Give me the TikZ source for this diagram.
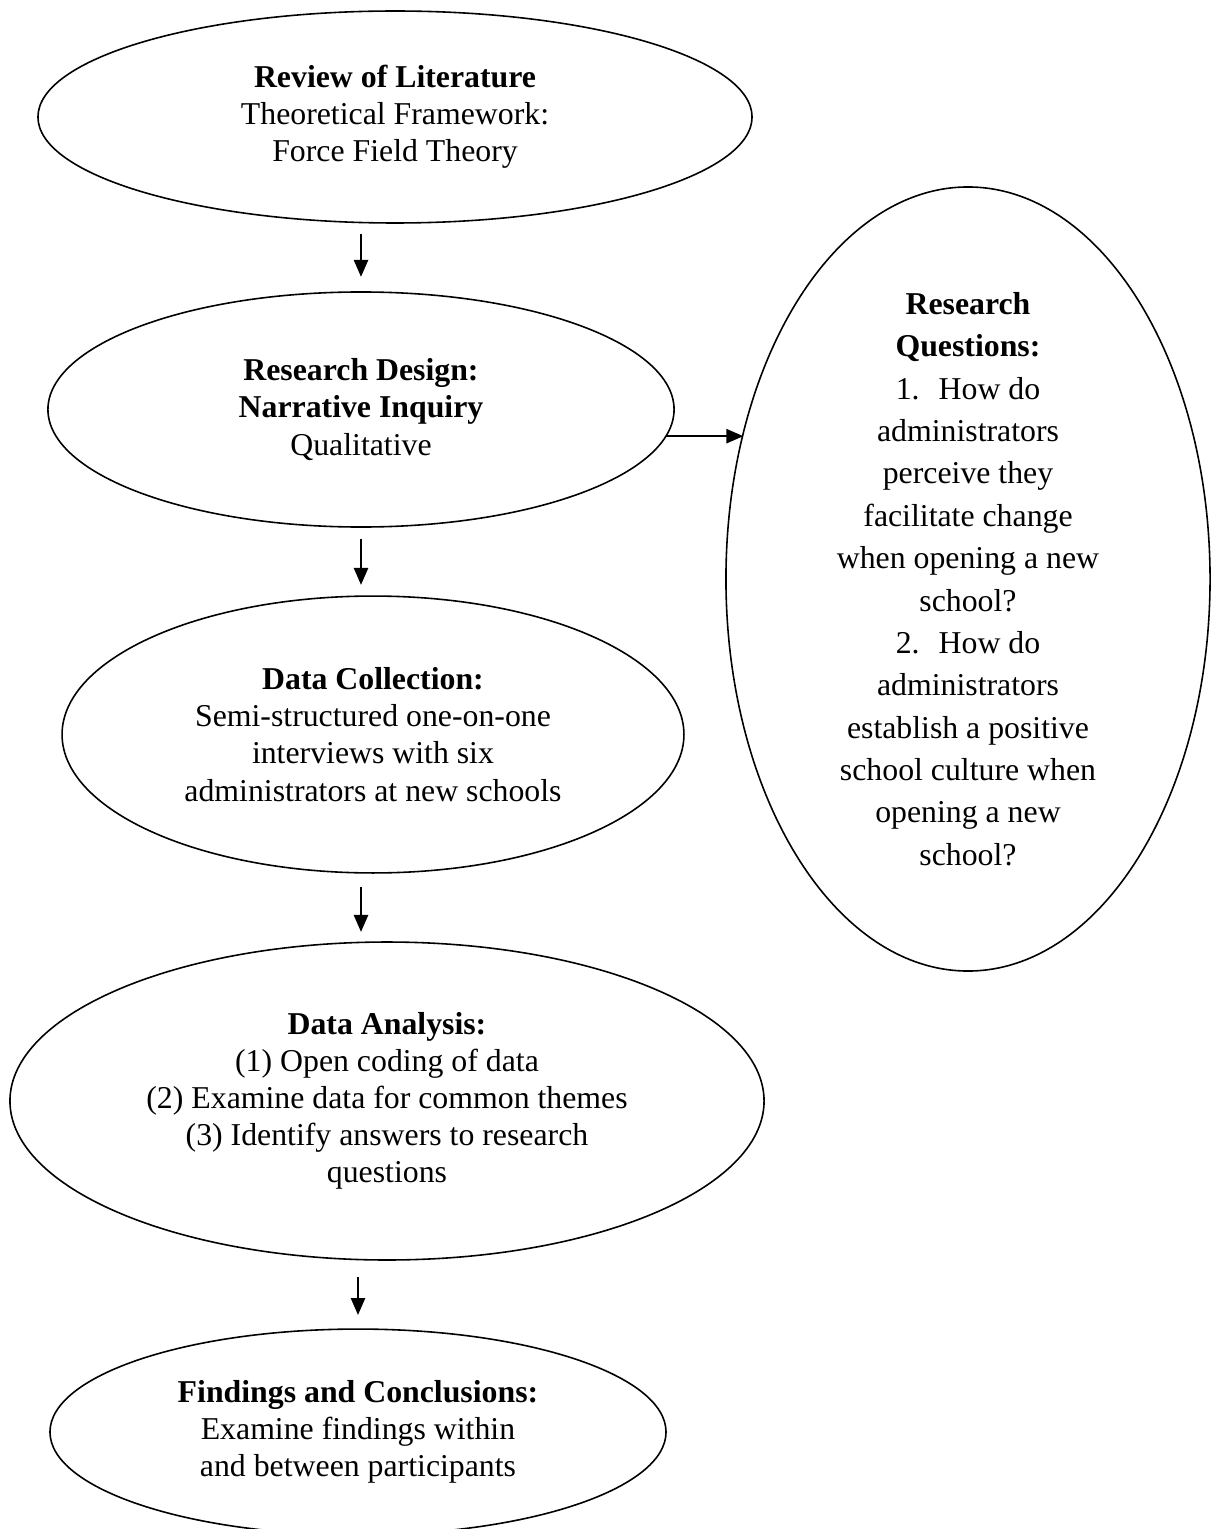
\documentclass[tikz,border=0pt]{standalone}
\usepackage{fontspec}
\setmainfont{Liberation Serif}
\usepackage{tikz}
\usetikzlibrary{shapes.geometric}
\usetikzlibrary{arrows.meta}
\tikzstyle{bubble} = [ellipse, draw, line width=0.6pt, inner sep=0pt,
    outer sep=0pt, align=center, font=\fontsize{12}{14}\selectfont]
\tikzstyle{line} = [draw, line width=0.9pt, -{Triangle[length=6.4pt, width=5.3pt]}]

\begin{document}
\begin{tikzpicture}[x=0.3774pt, y=-0.3774pt]
  \useasboundingbox (0,0) rectangle (1212,1529);

  \node [bubble, minimum width=269.5pt, minimum height=80pt] (review) at (395,117)
    {\textbf{Review of Literature}\\ Theoretical Framework:\\ Force Field Theory};
  \node [bubble, minimum width=236.3pt, minimum height=88.7pt] (design) at (361,409.5)
    {\textbf{Research Design:}\\ \textbf{Narrative Inquiry}\\ Qualitative};
  \node [bubble, minimum width=234.7pt, minimum height=104.5pt] (collect) at (373,734.5)
    {\textbf{Data Collection:}\\ Semi-structured one-on-one\\ interviews with six\\ administrators at new schools};
  \node [bubble, minimum width=284.6pt, minimum height=120pt] (analysis) at (387,1101)
    {\textbf{Data Analysis:}\\ (1) Open coding of data\\ (2) Examine data for common themes\\ (3) Identify answers to research\\ questions};
  \node [bubble, minimum width=232.5pt, minimum height=77.7pt] (findings) at (358,1432)
    {\textbf{Findings and Conclusions:}\\ Examine findings within\\ and between participants};
  \node [bubble, minimum width=182.7pt, minimum height=295.9pt, inner ysep=-12pt,
    font=\fontsize{12}{16}\selectfont] (quest) at (968,579)
    {\textbf{Research}\\ \textbf{Questions:}\\ 1.\hspace{0.6em}How do\\ administrators\\ perceive they\\
     facilitate change\\ when opening a new\\ school?\\ 2.\hspace{0.6em}How do\\ administrators\\
     establish a positive\\ school culture when\\ opening a new\\ school?};

    \path [line, shorten <=4.2pt, shorten >=5.7pt]
    (review.south -| design.north) -- (design.north);
    \path [line, shorten <=4.5pt, shorten >=4.2pt]
    (design.south) -- (collect.north -| design.south);
    \path [line, shorten <=5.3pt, shorten >=3.8pt]
    (collect.south -| design.south) -- (analysis.north -| design.south);
    \path [line, shorten <=6.4pt, shorten >=5.3pt]
    (analysis.south -| findings.north) -- (findings.north);

    \path [line] (design.-5.5) -- (design.-5.5 -| quest.147);

\end{tikzpicture}
\end{document}
